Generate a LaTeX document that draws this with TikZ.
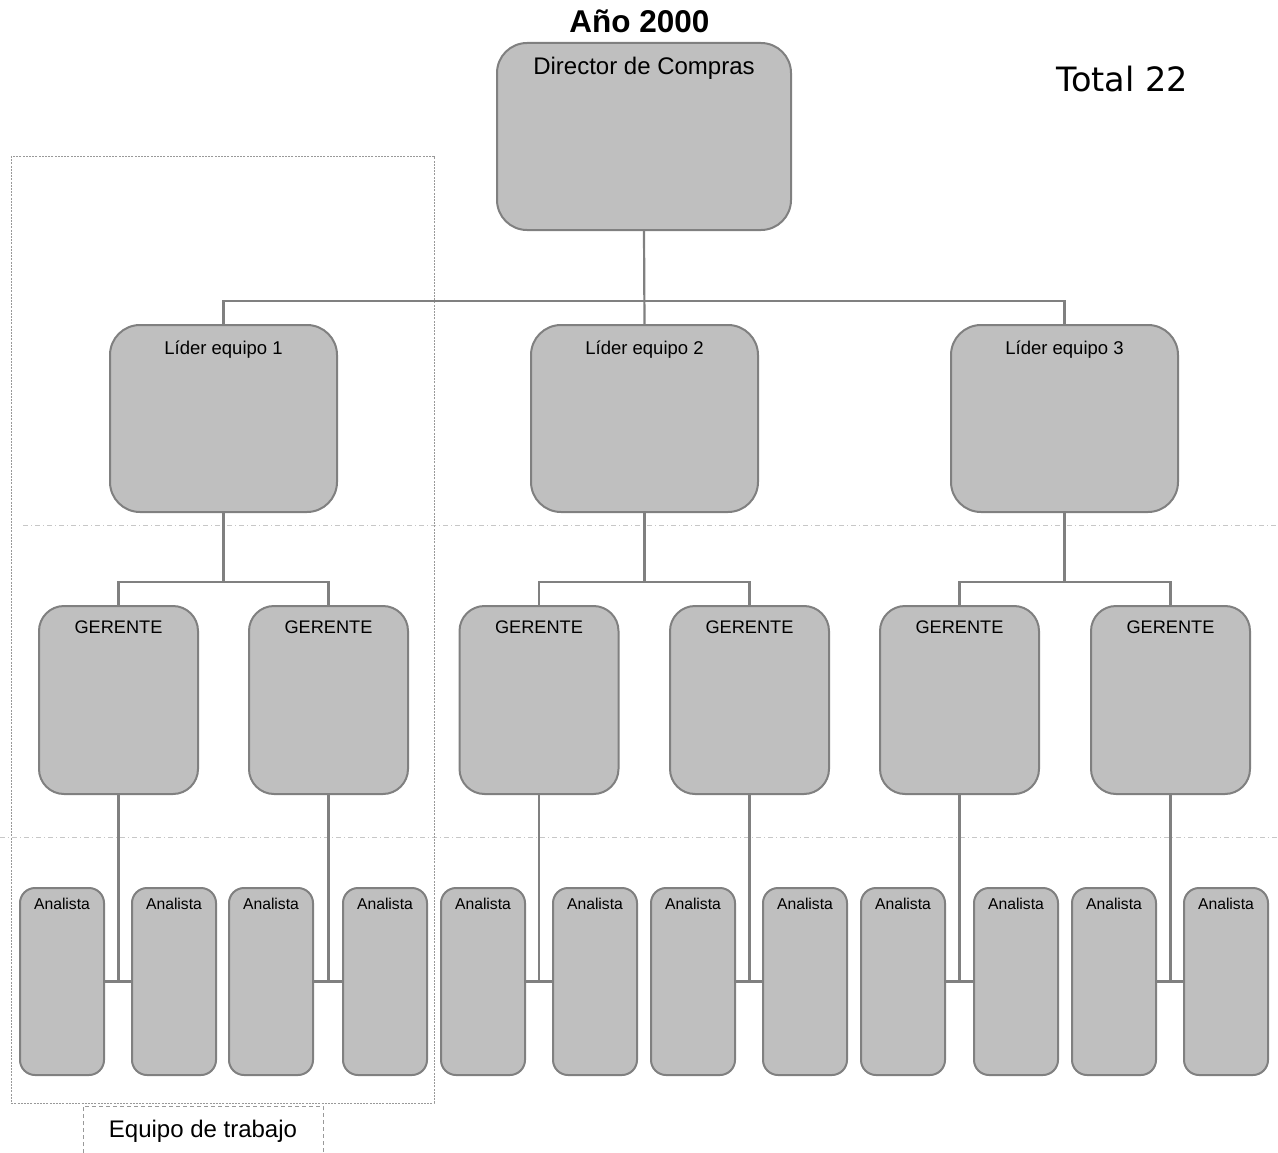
\documentclass[tikz,border=0pt]{standalone}
\usepackage{fontspec}
\setmainfont{Liberation Sans}
\newfontfamily\verdanalike{DejaVu Sans}
\begin{document}
\begin{tikzpicture}[x=1pt,y=-1pt,
  boxcol/.style={draw=black!50, fill=black!25, line width=2pt, inner sep=0pt},
  dirbox/.style={boxcol, rounded corners=30pt, minimum width=294pt, minimum height=187pt},
  leadbox/.style={boxcol, rounded corners=30pt, minimum width=227pt, minimum height=187pt},
  gerbox/.style={boxcol, rounded corners=25pt, minimum width=159pt, minimum height=188pt},
  anbox/.style={boxcol, rounded corners=15pt, minimum width=84pt, minimum height=187pt},
  txt/.style={anchor=base, inner sep=0pt, text=black},
  link/.style={draw=black!50, line width=2.2pt},
  level/.style={draw=black!22, line width=1pt, dash pattern=on 5pt off 3pt on 1pt off 3pt},
  teamframe/.style={draw=black!40, line width=0.9pt, dash pattern=on 2pt off 1.2pt},
  tagframe/.style={draw=black!40, line width=1pt, dash pattern=on 4pt off 3pt}
]
\useasboundingbox (0,0) rectangle (1278,1153);

% level separators
\draw[level] (23,525) -- (1278,525);
\draw[level] (0,837) -- (1278,837);

% frame around one work team and its tag
\draw[teamframe] (11,156) rectangle (434,1103);
\draw[tagframe] (83,1153) -- (83,1106) -- (323,1106) -- (323,1153);
\node[txt, font=\fontsize{24}{28}\selectfont] (tag) at (203,1137) {Equipo de trabajo};

% headings
\node[txt, font=\fontsize{31.5}{36}\selectfont\bfseries] (year) at (639.5,33) {Año 2000};
\node[txt, font=\fontsize{33.5}{38}\selectfont\verdanalike] (total) at (1122,92) {Total 22};

% director
\node[dirbox] (dir) at (644,136.5) {};
\node[txt, font=\fontsize{24}{28}\selectfont] (dirt) at (644,75) {Director de Compras};

% team leaders
\foreach \i/\x in {1/223.5, 2/644.5, 3/1064.5} {
  \node[leadbox] (l\i) at (\x,418.5) {};
  \node[txt, font=\fontsize{18.5}{22}\selectfont] (l\i t) at (\x,354) {Líder equipo \i};
}

% managers
\foreach \i/\x in {1/118.5, 2/328.5, 3/539, 4/749.5, 5/959.5, 6/1170.5} {
  \node[gerbox] (g\i) at (\x,700) {};
  \node[txt, font=\fontsize{18.2}{22}\selectfont] (g\i t) at (\x,633) {GERENTE};
}

% analysts
\foreach \i/\x in {1/62, 2/174, 3/271, 4/385, 5/483, 6/595, 7/693, 8/805, 9/903, 10/1016, 11/1114, 12/1226} {
  \node[anbox] (a\i) at (\x,981.5) {};
  \node[txt, font=\fontsize{15.7}{19}\selectfont] (a\i t) at (\x,909) {Analista};
}

% director to leaders
\draw[link] (dir.south) -- (l2.north);
\draw[link] (dir.south) ++(0,70) -| (l1.north);
\draw[link] (dir.south) ++(0,70) -| (l3.north);

% leaders to managers
\foreach \l/\ga/\gb in {1/1/2, 2/3/4, 3/5/6} {
  \draw[link] (l\l.south) -- ++(0,69) coordinate (j\l);
  \draw[link] (g\ga.north) |- (j\l) -| (g\gb.north);
}

% managers to analysts
\foreach \g/\aa/\ab in {1/1/2, 2/3/4, 3/5/6, 4/7/8, 5/9/10, 6/11/12} {
  \draw[link] (g\g.south) -- (g\g.south |- a\aa.east);
  \draw[link] (a\aa.east) -- (a\ab.west);
}
\end{tikzpicture}
\end{document}
